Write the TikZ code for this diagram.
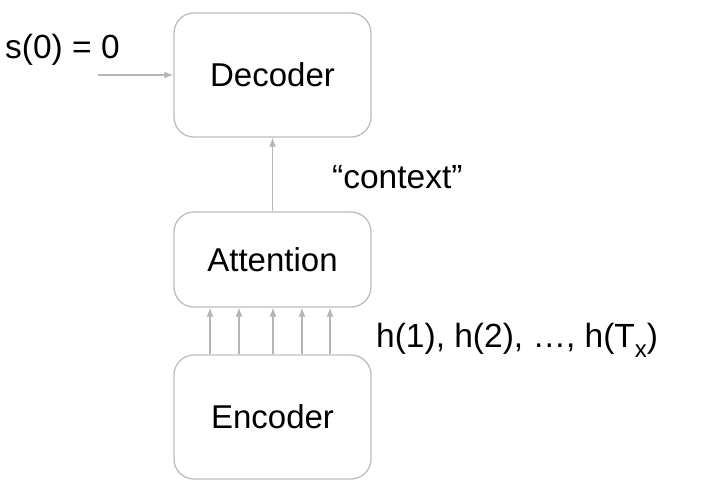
\documentclass[tikz,border=0pt]{standalone}
\usepackage{fontspec}
\setmainfont{Liberation Sans}
\usetikzlibrary{arrows.meta}
\definecolor{boxgray}{HTML}{BDBDBD}
\definecolor{arrgray}{HTML}{B5B5B5}
\begin{document}
\begin{tikzpicture}[x=1pt,y=-1pt,
  blk/.style={draw=boxgray,line width=1.3pt,rounded corners=20pt,minimum width=197pt,
    font=\fontsize{33}{39}\selectfont,inner sep=0pt},
  arr/.style={draw=arrgray,line width=1.3pt,-{Latex[length=9pt,width=7pt]}},
  lbl/.style={font=\fontsize{33.5}{40}\selectfont,anchor=base west,inner sep=0pt}]
\useasboundingbox (0,0) rectangle (709,493);
\node[blk,minimum height=124pt] (dec) at (272.5,75) {Decoder};
\node[blk,minimum height=95pt] (att) at (272.5,259.5) {Attention};
\node[blk,minimum height=124pt] (enc) at (272.5,417) {Encoder};
\coordinate (sin) at (98,75);
\draw[arr] (sin) -- (dec.west);
\draw[arr] (att.north) -- (dec.south);
\foreach \xx in {210,239,273,302,330}
  \draw[arr] (enc.north -| \xx,0) -- (att.south -| \xx,0);
\node[lbl] (s0) at (5,58) {s(0) = 0};
\node[lbl] (ctx) at (332,188) {“context”};
\node[lbl] (hh) at (376,347) {h(1), h(2), …, h(T\raisebox{-10pt}{\fontsize{24}{24}\selectfont x})};
\end{tikzpicture}
\end{document}
